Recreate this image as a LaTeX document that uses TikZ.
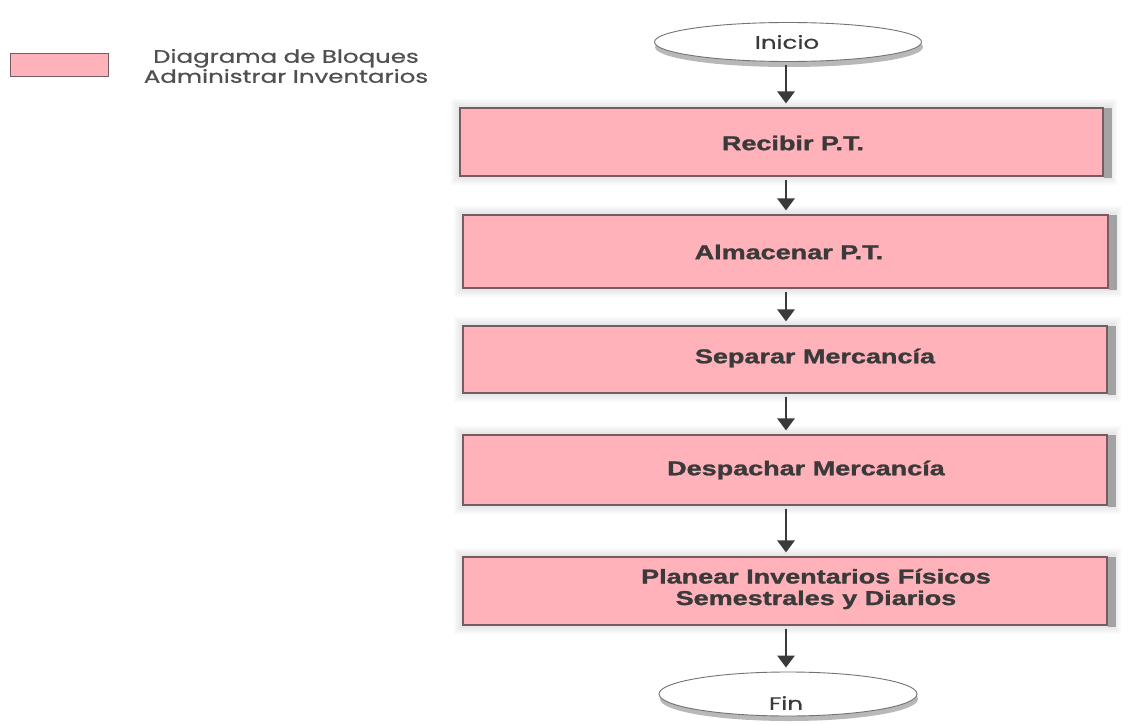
\documentclass[tikz,border=0pt]{standalone}
\usepackage{fontspec}
\setmainfont{Liberation Sans}
\newfontfamily\heavyfont{Liberation Sans}[BoldFeatures={FakeBold=1.2}]
\newfontfamily\geofont{Poppins}[FakeBold=0.5]
\usetikzlibrary{arrows.meta,calc,shapes.geometric,backgrounds}

\definecolor{boxpink}{RGB}{255,178,186}
\definecolor{boxedge}{RGB}{118,92,96}
\definecolor{ink}{RGB}{58,58,58}
\definecolor{legendink}{RGB}{80,80,80}

% widen a line of text horizontally
\newcommand\wideline[1]{\scalebox{1.35}[1]{#1}}
\newcommand\geoline[1]{\scalebox{1.36}[1]{#1}}

\tikzset{
  flowbox/.style={rectangle, draw=boxedge, line width=1.1pt, fill=boxpink, inner sep=0pt},
  terminal/.style={ellipse, draw=black!55, line width=0.9pt, fill=white, inner sep=0pt},
  terminalshade/.style={ellipse, fill=black!28, inner sep=0pt},
  flowarrow/.style={draw=ink, line width=2.8pt, shorten <=3pt, shorten >=4pt,
    -{Triangle[width=17pt,length=12pt]}},
  boxlabel/.style={text=ink, font=\heavyfont\bfseries\fontsize{20}{21.5}\selectfont, align=center, inner sep=0pt},
  geolabel/.style={text=ink, font=\geofont\fontsize{18}{20}\selectfont, inner sep=0pt},
  legendlabel/.style={text=legendink, font=\geofont\fontsize{18}{20}\selectfont, align=center, inner sep=0pt},
}

% soft shadow behind a box: layered faint halo plus a darker band on the right
\newcommand\boxshadow[1]{%
  \foreach \g in {8,6,4,2}{
    \fill[black, opacity=0.025] ($(#1.north west)+(-\g,-\g)$) rectangle ($(#1.south east)+(\g+5,\g)$);
  }
  \fill[black!36] ($(#1.north east)+(0,1)$) rectangle ($(#1.south east)+(8,1)$);
}

\begin{document}
\begin{tikzpicture}[x=1pt, y=-1pt]
\useasboundingbox (0,0) rectangle (1128,725);

% legend
\node[flowbox, line width=1pt, minimum width=98pt, minimum height=23pt] (key) at (59,65) {};
\node[legendlabel] (keytext) at (286,66)
  {\geoline{Diagrama de Bloques}\\\geoline{Administrar Inventarios}};

% start / end terminals
\node[terminalshade, minimum width=268pt, minimum height=40pt] (inishade) at (789,47) {};
\node[terminal, minimum width=267pt, minimum height=39pt] (ini) at (788,42) {};
\node[geolabel] (initext) at (787,42) {\geoline{Inicio}};

\node[terminalshade, minimum width=258pt, minimum height=44pt] (finshade) at (789,699) {};
\node[terminal, minimum width=258pt, minimum height=44pt] (fin) at (788,694) {};
\node[geolabel] (fintext) at (786,703) {\geoline{Fin}};

% process boxes
\node[flowbox, minimum width=643pt, minimum height=68pt] (b1) at (781.5,142) {};
\node[flowbox, minimum width=645pt, minimum height=73pt] (b2) at (785.5,251.5) {};
\node[flowbox, minimum width=644pt, minimum height=67pt] (b3) at (785,359.5) {};
\node[flowbox, minimum width=644pt, minimum height=70pt] (b4) at (785,470) {};
\node[flowbox, minimum width=644pt, minimum height=68pt] (b5) at (785,591) {};

\begin{scope}[on background layer]
  \fill[white] (0,0) rectangle (1128,725);
  \boxshadow{b1}
  \boxshadow{b2}
  \boxshadow{b3}
  \boxshadow{b4}
  \boxshadow{b5}
\end{scope}

% box labels
\node[boxlabel] (t1) at (793,143) {\wideline{Recibir P.T.}};
\node[boxlabel] (t2) at (789,252) {\wideline{Almacenar P.T.}};
\node[boxlabel] (t3) at (815,358) {\wideline{Separar Mercancía}};
\node[boxlabel] (t4) at (806,470) {\wideline{Despachar Mercancía}};
\node[boxlabel] (t5) at (816,589) {\wideline{Planear Inventarios Físicos}\\\wideline{Semestrales y Diarios}};

% connectors along the vertical axis
\coordinate (axis) at (786,0);
\draw[flowarrow] (ini.south -| axis) -- (b1.north -| axis);
\draw[flowarrow] (b1.south -| axis) -- (b2.north -| axis);
\draw[flowarrow] (b2.south -| axis) -- (b3.north -| axis);
\draw[flowarrow] (b3.south -| axis) -- (b4.north -| axis);
\draw[flowarrow] (b4.south -| axis) -- (b5.north -| axis);
\draw[flowarrow] (b5.south -| axis) -- (fin.north -| axis);
\end{tikzpicture}
\end{document}
